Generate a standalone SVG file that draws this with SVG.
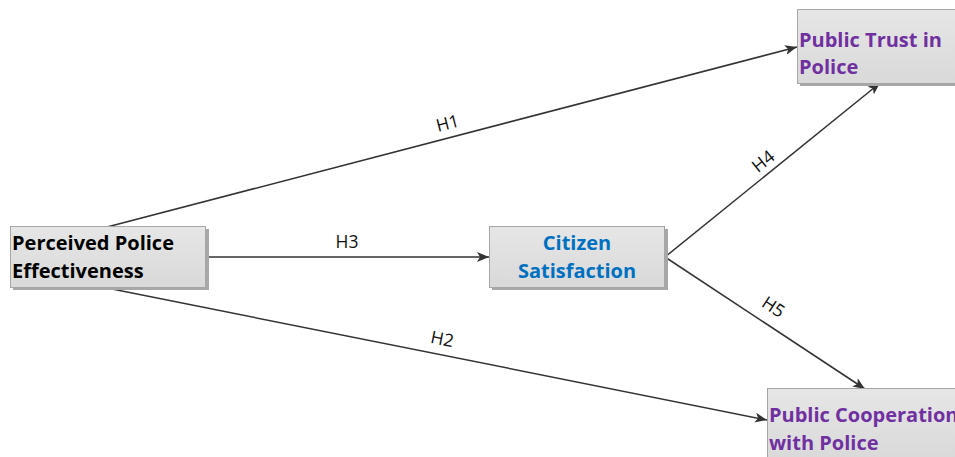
<svg xmlns="http://www.w3.org/2000/svg" width="955" height="457" viewBox="0 0 955 457">
<defs>
<linearGradient id="g" x1="0" y1="0" x2="0" y2="1"><stop offset="0" stop-color="#e6e6e6"/><stop offset="1" stop-color="#d9d9d9"/></linearGradient>
<marker id="a" viewBox="0 0 12 10" refX="12" refY="5" markerWidth="12" markerHeight="10" markerUnits="userSpaceOnUse" orient="auto"><path d="M0,0 L12,5 L0,10 L3,5 Z" fill="#333"/></marker>
</defs>
<style>
.box{fill:url(#g);stroke:#a6a6a6;stroke-width:1}
.sh{fill:#a8a8a8}
.t{font-family:"Open Sans","Noto Sans",sans-serif;font-weight:bold;font-size:20px}
.l{font-family:"Open Sans","Noto Sans",sans-serif;font-size:17.5px;fill:#111}
.c{stroke:#333;stroke-width:1.5;fill:none}
</style>
<rect width="955" height="457" fill="#fff"/>
<g id="connectors">
<line class="c" x1="107" y1="227" x2="797" y2="47" marker-end="url(#a)"/>
<line class="c" x1="206" y1="257" x2="489" y2="257" marker-end="url(#a)"/>
<line class="c" x1="107" y1="288" x2="767" y2="420" marker-end="url(#a)"/>
<line class="c" x1="665" y1="257" x2="880" y2="83" marker-end="url(#a)"/>
<line class="c" x1="665" y1="257" x2="865" y2="389" marker-end="url(#a)"/>
<text class="l" transform="translate(449,129) rotate(-14.6)" text-anchor="middle">H1</text>
<text class="l" x="347" y="248" text-anchor="middle">H3</text>
<text class="l" transform="translate(441,345) rotate(11.3)" text-anchor="middle">H2</text>
<text class="l" transform="translate(767,166) rotate(-39)" text-anchor="middle">H4</text>
<text class="l" transform="translate(770,312) rotate(33.4)" text-anchor="middle">H5</text>
</g>
<g id="node-ppe">
<rect class="sh" x="13" y="229" width="196" height="61"/>
<rect class="box" x="10.5" y="226.5" width="195" height="61"/>
<text class="t" x="12" y="250" fill="#000">Perceived Police</text>
<text class="t" x="12" y="278" fill="#000">Effectiveness</text>
</g>
<g id="node-cs">
<rect class="sh" x="492" y="229" width="176" height="61"/>
<rect class="box" x="489.5" y="226.5" width="175" height="61"/>
<text class="t" x="577" y="250" fill="#0070C0" text-anchor="middle">Citizen</text>
<text class="t" x="577" y="278" fill="#0070C0" text-anchor="middle">Satisfaction</text>
</g>
<g id="node-ptp">
<rect class="sh" x="800" y="12" width="160" height="74"/>
<rect class="box" x="797.5" y="9.5" width="162" height="74"/>
<text class="t" x="799" y="47" fill="#7030A0">Public Trust in</text>
<text class="t" x="799" y="74" fill="#7030A0">Police</text>
</g>
<g id="node-pcp">
<rect class="sh" x="770" y="391" width="190" height="70"/>
<rect class="box" x="767.5" y="388.5" width="192" height="72"/>
<text class="t" x="769" y="422" fill="#7030A0">Public Cooperation</text>
<text class="t" x="769" y="450" fill="#7030A0">with Police</text>
</g>
</svg>
